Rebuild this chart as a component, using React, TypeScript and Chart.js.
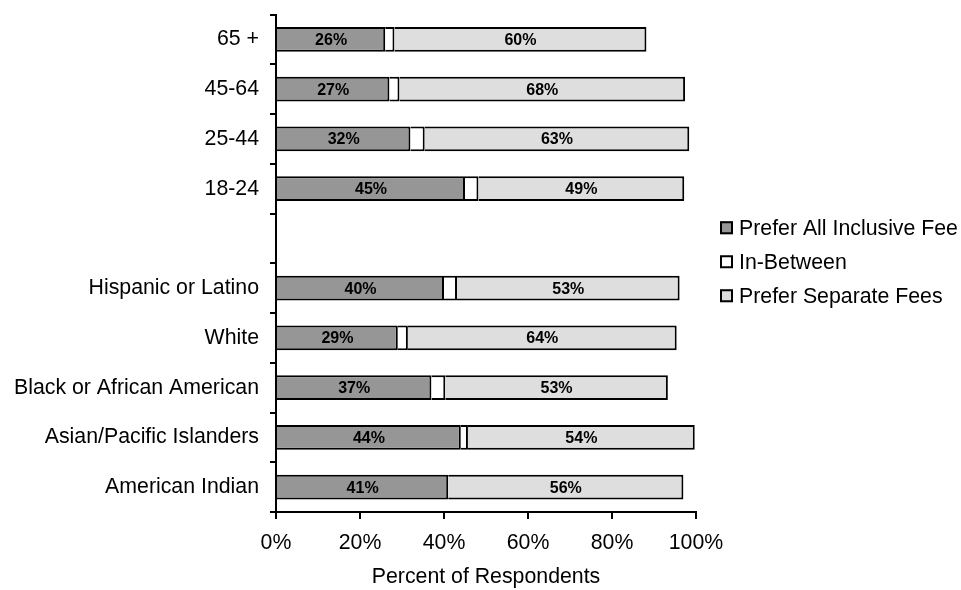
import React, { useEffect, useRef } from "react";
import { Chart, registerables } from "chart.js";

Chart.register(...registerables);

const categories = [
  "65 +",
  "45-64",
  "25-44",
  "18-24",
  "",
  "Hispanic or Latino",
  "White",
  "Black or African American",
  "Asian/Pacific Islanders",
  "American Indian",
];
const preferAllInclusive = [26, 27, 32, 45, null, 40, 29, 37, 44, 41];
const inBetween = [2.2, 2.4, 3.4, 3.2, null, 3.1, 2.4, 3.3, 1.7, 0];
const preferSeparate = [60, 68, 63, 49, null, 53, 64, 53, 54, 56];
const seriesNames = ["Prefer All Inclusive Fee", "In-Between", "Prefer Separate Fees"];
const xTicks = [0, 20, 40, 60, 80, 100];

const FONT = "'Liberation Sans', Arial, sans-serif";
const FS = 21.3;
const COLORS = ["#969696", "#ffffff", "#dedede"];

const dataLabelPlugin = {
  id: "dataLabels",
  afterDatasetsDraw(chart: any) {
    const ctx = chart.ctx;
    ctx.save();
    ctx.font = `bold 16px ${FONT}`;
    ctx.fillStyle = "#000";
    ctx.textAlign = "center";
    ctx.textBaseline = "middle";
    [0, 2].forEach((di) => {
      const meta = chart.getDatasetMeta(di);
      const data = chart.data.datasets[di].data;
      meta.data.forEach((el: any, i: number) => {
        const v = data[i];
        if (v == null || v <= 0) return;
        const p = el.getProps(["x", "y", "base"], true);
        ctx.fillText(`${Math.round(v)}%`, (p.x + p.base) / 2, p.y + 1);
      });
    });
    ctx.restore();
  },
};

const legendPlugin = {
  id: "customLegend",
  afterDraw(chart: any) {
    const ctx = chart.ctx;
    const area = chart.chartArea;
    const cx = area.right + 24;
    const cy = (area.top + area.bottom) / 2 - 1.5;
    ctx.save();
    ctx.font = `${FS}px ${FONT}`;
    ctx.textAlign = "left";
    ctx.textBaseline = "middle";
    seriesNames.forEach((name, i) => {
      const y = cy + (i - 1) * 34;
      ctx.fillStyle = COLORS[i];
      ctx.fillRect(cx, y - 6.5, 13, 13);
      ctx.lineWidth = 2;
      ctx.strokeStyle = "#000";
      ctx.strokeRect(cx + 1, y - 5.5, 11, 11);
      ctx.fillStyle = "#000";
      ctx.fillText(name, cx + 19, y + 1);
    });
    ctx.restore();
  },
};

export default function App() {
  const ref = useRef<HTMLCanvasElement>(null);
  useEffect(() => {
    if (!ref.current) return;
    const mk = (label: string, data: any[], color: string) => ({
      label,
      data,
      backgroundColor: color,
      borderColor: "#000",
      borderWidth: 2,
      borderSkipped: "start" as const,
      barPercentage: 0.5,
      categoryPercentage: 1,
    });
    const chart = new Chart(ref.current, {
      type: "bar",
      data: {
        labels: categories,
        datasets: [
          mk(seriesNames[0], preferAllInclusive, COLORS[0]),
          mk(seriesNames[1], inBetween, COLORS[1]),
          mk(seriesNames[2], preferSeparate, COLORS[2]),
        ],
      },
      options: {
        indexAxis: "y",
        responsive: false,
        animation: false,
        layout: { padding: { top: 14.5, left: 0, right: 265, bottom: 0 } },
        plugins: {
          legend: { display: false },
          tooltip: { enabled: false },
        },
        scales: {
          x: {
            stacked: true,
            min: 0,
            max: 100,
            afterBuildTicks: (scale: any) => {
              scale.ticks = xTicks.map((v) => ({ value: v }));
            },
            afterFit: (scale: any) => {
              scale.height = 78;
            },
            ticks: {
              color: "#000",
              font: { family: FONT, size: FS },
              padding: 11,
              maxRotation: 0,
              callback: (v: any) => `${v}%`,
            },
            grid: {
              drawOnChartArea: false,
              drawTicks: true,
              tickLength: 7,
              color: "#000",
              lineWidth: 2,
            },
            border: { color: "#000", width: 2 },
            title: {
              display: true,
              text: "Percent of Respondents",
              color: "#000",
              font: { family: FONT, size: FS },
              padding: { top: 4, bottom: 0 },
            },
          },
          y: {
            stacked: true,
            afterFit: (scale: any) => {
              scale.width = 276;
              scale.paddingTop = 0;
              scale.paddingBottom = 0;
            },
            ticks: {
              color: "#000",
              font: { family: FONT, size: FS },
              padding: 11,
            },
            grid: {
              drawOnChartArea: false,
              drawTicks: true,
              tickLength: 6,
              offset: true,
              color: "#000",
              lineWidth: 2,
            },
            border: { color: "#000", width: 2 },
          },
        },
      },
      plugins: [dataLabelPlugin, legendPlugin],
    });
    return () => chart.destroy();
  }, []);
  return (
    <div style={{ position: "absolute", left: 0, top: 0, width: 961, height: 590, background: "#fff" }}>
      <canvas ref={ref} width={961} height={590} style={{ display: "block" }} />
    </div>
  );
}
